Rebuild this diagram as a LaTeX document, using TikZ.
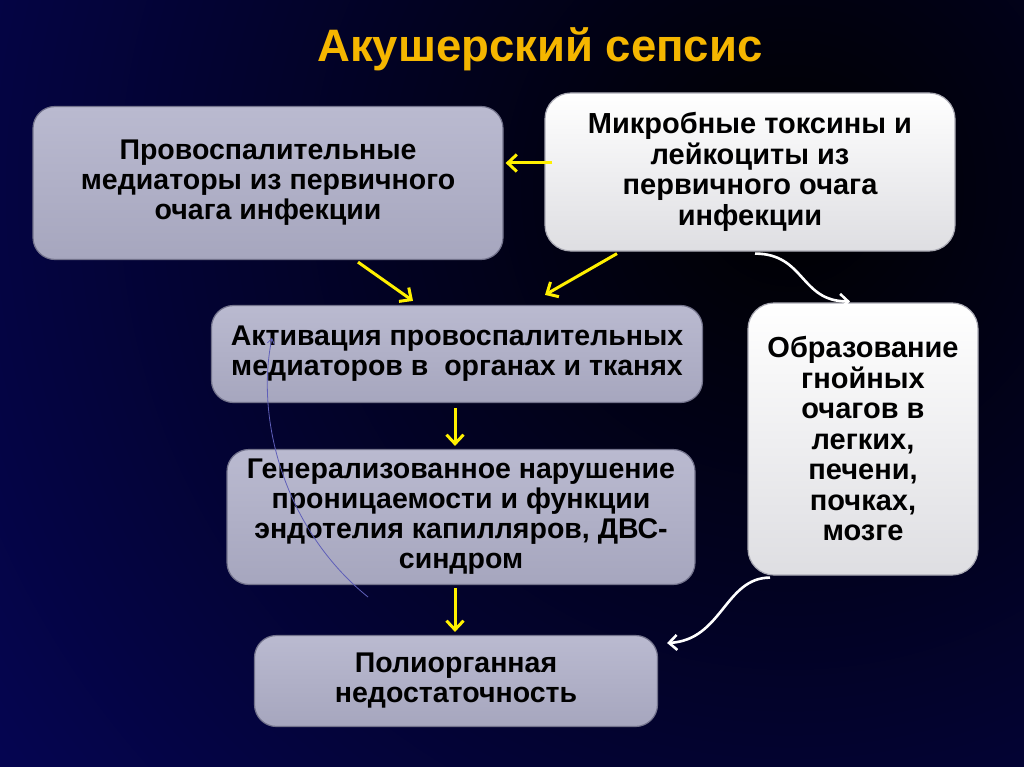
\documentclass[tikz,border=0pt]{standalone}
\usepackage{fontspec}
\setmainfont{Liberation Sans}
\usetikzlibrary{arrows.meta}

\definecolor{bgnavy}{RGB}{6,6,96}
\definecolor{boxgrey}{RGB}{166,166,190}
\definecolor{boxgreytop}{RGB}{186,186,208}
\definecolor{boxedge}{RGB}{115,115,140}
\definecolor{whiteedge}{RGB}{170,170,180}
\definecolor{whitebottom}{RGB}{222,222,226}
\definecolor{arrowyellow}{RGB}{255,240,0}
\definecolor{titleorange}{RGB}{245,182,0}
\definecolor{thinblue}{RGB}{95,95,185}

\begin{document}
\begin{tikzpicture}[x=1pt,y=-1pt,
  greybox/.style={rounded corners=22pt,top color=boxgreytop,bottom color=boxgrey,draw=boxedge,line width=1.2pt,align=center,font=\fontsize{28.5}{30}\selectfont\bfseries},
  whitebox/.style={rounded corners=26pt,top color=white,bottom color=whitebottom,draw=whiteedge,line width=1.2pt,align=center,font=\fontsize{29}{30.5}\selectfont\bfseries},
  yarrow/.style={-{Straight Barb[length=9pt,width=17pt]},draw=arrowyellow,line width=3pt},
  warrow/.style={-{Straight Barb[length=8pt,width=15pt]},draw=white,line width=2.6pt}]
  \useasboundingbox (0,0) rectangle (1024,767);
  % background
  \begin{scope}
    \clip (0,0) rectangle (1024,767);
    \fill[bgnavy] (0,0) rectangle (1024,767);
    \shade[inner color=black,outer color=bgnavy] (790,190) circle (1150);
  \end{scope}

  \node[text=titleorange,font=\fontsize{45.5}{50}\selectfont\bfseries](t) at (540,49){Акушерский сепсис};

  \node[greybox,minimum width=470pt,minimum height=153pt](v1) at (268,183){Провоспалительные\\медиаторы из первичного\\очага инфекции};
  \node[whitebox,minimum width=410pt,minimum height=158pt](v2) at (750,172){Микробные токсины и\\лейкоциты из\\первичного очага\\инфекции};
  \node[greybox,minimum width=491pt,minimum height=97pt](v3) at (457,354){Активация провоспалительных\\медиаторов в~ органах и тканях};
  \node[greybox,minimum width=468pt,minimum height=135pt](v4) at (461,517){Генерализованное нарушение\\проницаемости и функции\\эндотелия капилляров, ДВС-\\синдром};
  \node[whitebox,minimum width=230pt,minimum height=272pt](v5) at (863,439){Образование\\гнойных\\очагов в\\легких,\\печени,\\почках,\\мозге};
  \node[greybox,minimum width=403pt,minimum height=91pt](v6) at (456,681){Полиорганная\\недостаточность};

  \path
    ([xshift=8pt,yshift=9pt]v2.west) edge[yarrow] ([xshift=2pt,yshift=20pt]v1.east)
    ([xshift=90pt,yshift=-2pt]v1.south) edge[yarrow] ([xshift=-44pt,yshift=4pt]v3.north)
    ([xshift=-133pt,yshift=-2pt]v2.south) edge[yarrow] ([xshift=88pt,yshift=10pt]v3.north)
    ([xshift=-2pt,yshift=-5pt]v3.south) edge[yarrow] ([xshift=-6pt,yshift=3pt]v4.north)
    ([xshift=-6pt,yshift=-3pt]v4.south) edge[yarrow] ([xshift=-1pt,yshift=3pt]v6.north);

  \draw[warrow] ([xshift=5pt,yshift=-2pt]v2.south) .. controls +(50,0) and +(-50,0) .. ([xshift=-13pt,yshift=1pt]v5.north);
  \draw[warrow] ([xshift=-93pt,yshift=-2pt]v5.south) .. controls +(-45,0) and +(55,-3) .. ([xshift=9pt,yshift=38pt]v6.east);

  \coordinate (b1) at (368,597);
  \coordinate (b2) at (272,338);
  \draw[thinblue,line width=0.8pt,-{Straight Barb[length=5pt,width=7pt]}] (b1) .. controls (285,530) and (255,420) .. (b2);
\end{tikzpicture}
\end{document}
